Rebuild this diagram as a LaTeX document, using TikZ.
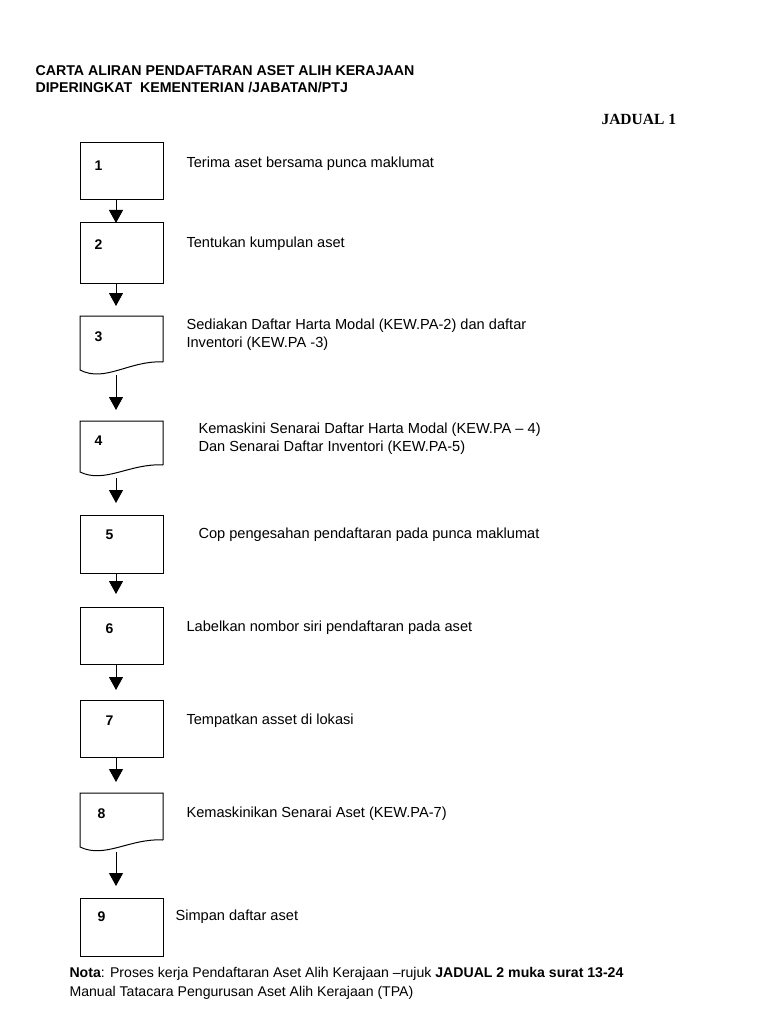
\documentclass[tikz,border=0pt]{standalone}
\usetikzlibrary{arrows.meta}
\usepackage{fontspec}
\setmainfont{Liberation Sans}
\newfontfamily\serifb{Liberation Serif}
\begin{document}
\begin{tikzpicture}[x=1pt,y=-1pt,
  box/.style={draw,line width=1pt},
  arr/.style={line width=1pt,-{Triangle[width=14pt,length=13pt]}},
  num/.style={font=\fontsize{14}{16}\selectfont\bfseries,anchor=west},
  txt/.style={font=\fontsize{14.6}{18}\selectfont,anchor=west,align=left},
  ttl/.style={font=\fontsize{14.2}{15}\selectfont\bfseries,anchor=west}]
\useasboundingbox (0,0) rectangle (768,1024);
\node[ttl] (t1) at (32,71) {CARTA ALIRAN PENDAFTARAN ASET ALIH KERAJAAN};
\node[ttl] (t2) at (32,87) {DIPERINGKAT\ \ KEMENTERIAN /JABATAN/PTJ};
\node[font=\serifb\fontsize{15.5}{17}\selectfont\bfseries,anchor=west] (j) at (598,119) {JADUAL 1};
% boxes
\draw[box] (80,143) rectangle (163,200);
\coordinate (b1t) at (116,143); \coordinate (b1b) at (116,200);
\draw[box] (80,223) rectangle (163,283);
\coordinate (b2t) at (116,223); \coordinate (b2b) at (116,283);
\draw[box] (163,362) -- (163,316) -- (80,316) -- (80,370) .. controls (105,383) and (130,360) .. (163,362);
\coordinate (b3t) at (116,316); \coordinate (b3b) at (116,375);
\draw[box] (163,465) -- (163,421) -- (80,421) -- (80,472) .. controls (105,484) and (130,463) .. (163,465);
\coordinate (b4t) at (116,421); \coordinate (b4b) at (116,478);
\draw[box] (80,515) rectangle (163,573);
\coordinate (b5t) at (116,515); \coordinate (b5b) at (116,573);
\draw[box] (80,607) rectangle (163,664);
\coordinate (b6t) at (116,607); \coordinate (b6b) at (116,664);
\draw[box] (80,700) rectangle (163,757);
\coordinate (b7t) at (116,700); \coordinate (b7b) at (116,757);
\draw[box] (163,840) -- (163,793) -- (80,793) -- (80,847) .. controls (105,859) and (130,838) .. (163,840);
\coordinate (b8t) at (116,793); \coordinate (b8b) at (116,852);
\draw[box] (80,898) rectangle (163,956);
\coordinate (b9t) at (116,898);
\draw[arr] (b1b) -- (b2t);
\draw[arr] (b2b) -- (116,306);
\draw[arr] (b3b) -- (116,410);
\draw[arr] (b4b) -- (116,503);
\draw[arr] (b5b) -- (116,594);
\draw[arr] (b6b) -- (116,690);
\draw[arr] (b7b) -- (116,782);
\draw[arr] (b8b) -- (116,886);
% numbers
\node[num] (n1) at (91,166) {1};
\node[num] (n2) at (91,245) {2};
\node[num] (n3) at (91,337) {3};
\node[num] (n4) at (91,441) {4};
\node[num] (n5) at (102,535) {5};
\node[num] (n6) at (102,629) {6};
\node[num] (n7) at (102,721) {7};
\node[num] (n8) at (94,814) {8};
\node[num] (n9) at (94,917) {9};
% texts
\node[txt] (x1) at (183,164) {Terima aset bersama punca maklumat};
\node[txt] (x2) at (183,244) {Tentukan kumpulan aset};
\node[txt] (x3) at (183,335) {Sediakan Daftar Harta Modal (KEW.PA-2) dan daftar\\Inventori (KEW.PA -3)};
\node[txt] (x4) at (195,439) {Kemaskini Senarai Daftar Harta Modal (KEW.PA -- 4)\\Dan Senarai Daftar Inventori (KEW.PA-5)};
\node[txt] (x5) at (195,535) {Cop pengesahan pendaftaran pada punca maklumat};
\node[txt] (x6) at (183,628) {Labelkan nombor siri pendaftaran pada aset};
\node[txt] (x7) at (183,721) {Tempatkan asset di lokasi};
\node[txt] (x8) at (183,814) {Kemaskinikan Senarai Aset (KEW.PA-7)};
\node[txt] (x9) at (172,917) {Simpan daftar aset};
\node[font=\fontsize{14.1}{19}\selectfont,anchor=west,align=left] (nota) at (66,983) {\textbf{Nota}: Proses kerja Pendaftaran Aset Alih Kerajaan --rujuk \textbf{JADUAL 2 muka surat 13-24}\\Manual Tatacara Pengurusan Aset Alih Kerajaan (TPA)};
\end{tikzpicture}
\end{document}
